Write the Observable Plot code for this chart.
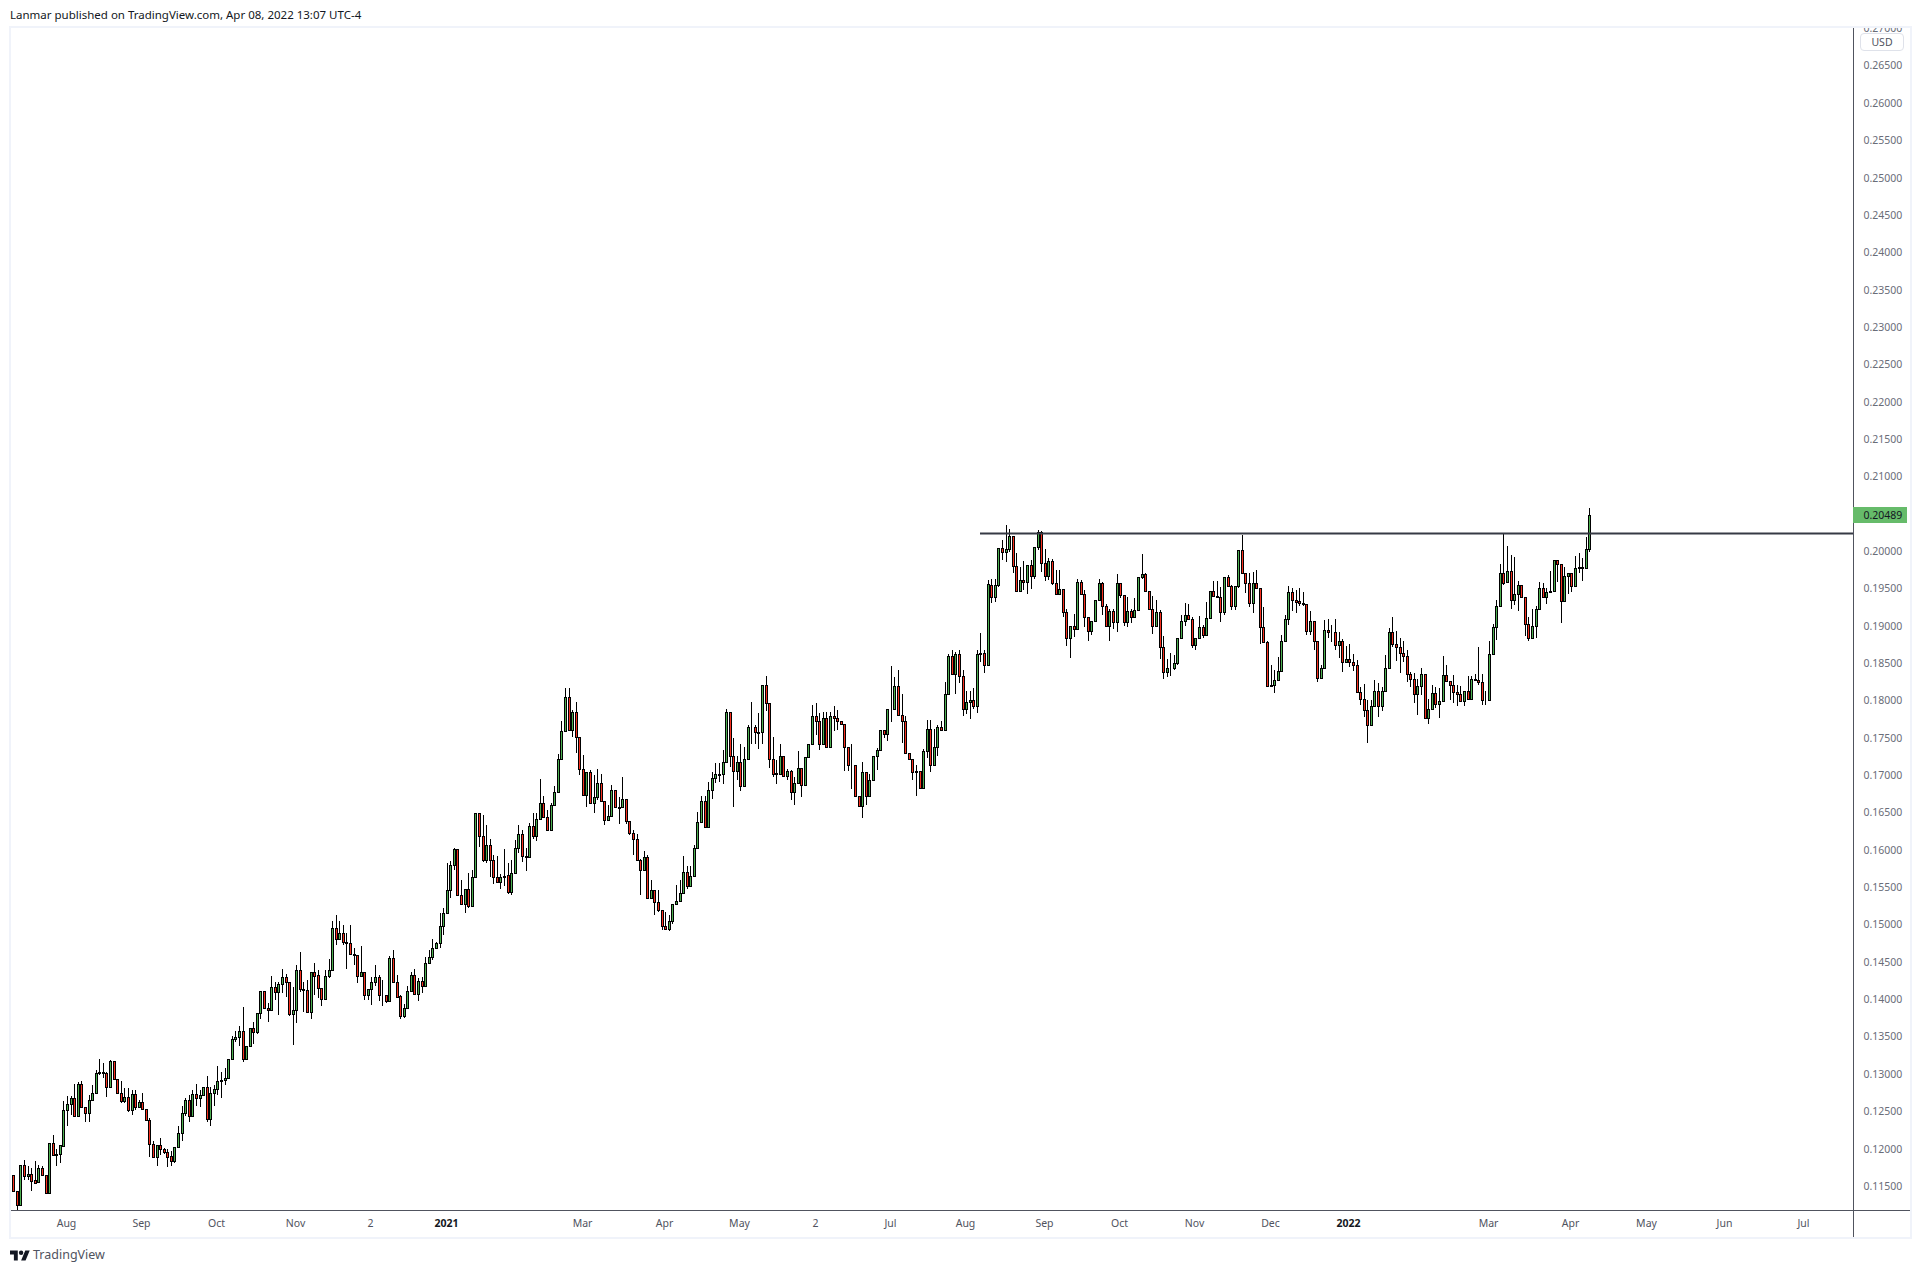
<!DOCTYPE html>
<html><head><meta charset="utf-8">
<script src="https://cdn.jsdelivr.net/npm/d3@7"></script>
<script src="https://cdn.jsdelivr.net/npm/@observablehq/plot@0.6"></script>
<style>
html,body{margin:0;padding:0;background:#fff;width:1921px;height:1273px;overflow:hidden;font-family:"Noto Sans",sans-serif}
#hdr{position:absolute;left:10px;top:7px;font-size:11.5px;color:#131722;white-space:nowrap;line-height:15px}
#frame{position:absolute;left:9px;top:26px;width:1899px;height:1209px;border:2px solid #f0f3fa;background:#fff}
#frame svg{display:block}
#usd{position:absolute;left:1860px;top:33px;width:42px;height:16px;border:1px solid #dfe2ea;border-radius:4px;background:#fff;color:#50535e;font-size:10.5px;line-height:16px;text-align:center}
#ftr{position:absolute;left:10px;top:1247px;display:flex;align-items:center;color:#50535e;font-size:12.5px;line-height:16px}
#ftr svg{margin-right:3px}
</style></head><body>
<div id="hdr">Lanmar published on TradingView.com, Apr 08, 2022 13:07 UTC-4</div>
<div id="frame"></div>
<div id="usd">USD</div>
<div id="ftr"><svg width="20" height="15" viewBox="0 0 36 26"><path d="M14 22H7V11H0V4h14v18zM28 22h-8l7.5-18h8L28 22z" fill="#131722"/><circle cx="20" cy="8" r="4" fill="#131722"/></svg>TradingView</div>
<script>
// Daily candles, prices in ten-thousandths of a US dollar
const opens=[1165,1143,1124,1178,1163,1166,1158,1155,1174,1164,1140,1207,1191,1193,1204,1251,1259,1267,1244,1287,1256,1248,1265,1275,1301,1302,1301,1282,1317,1293,1275,1263,1269,1251,1273,1256,1262,1253,1238,1206,1189,1205,1199,1195,1190,1183,1202,1221,1247,1265,1243,1273,1267,1271,1283,1240,1275,1280,1291,1292,1294,1320,1346,1349,1357,1320,1337,1361,1356,1381,1411,1388,1385,1416,1410,1420,1429,1423,1380,1385,1439,1413,1412,1383,1436,1432,1415,1400,1431,1439,1495,1480,1488,1476,1475,1460,1459,1431,1437,1405,1413,1423,1429,1406,1406,1398,1455,1423,1404,1378,1388,1411,1432,1407,1424,1418,1449,1456,1468,1475,1498,1516,1546,1579,1601,1539,1527,1548,1525,1563,1649,1619,1586,1606,1586,1564,1557,1563,1566,1544,1569,1603,1621,1591,1590,1632,1618,1641,1662,1644,1627,1660,1677,1722,1759,1804,1760,1785,1751,1708,1673,1704,1663,1670,1690,1665,1640,1645,1680,1657,1657,1668,1638,1622,1614,1586,1573,1590,1535,1546,1530,1519,1498,1494,1504,1528,1532,1542,1570,1551,1565,1602,1637,1665,1631,1680,1696,1701,1701,1718,1784,1725,1705,1717,1685,1722,1764,1765,1757,1757,1821,1796,1721,1703,1702,1725,1699,1706,1678,1689,1709,1687,1724,1742,1779,1773,1742,1776,1738,1779,1776,1772,1768,1737,1714,1714,1672,1658,1704,1672,1694,1725,1734,1760,1755,1788,1788,1819,1780,1773,1730,1721,1704,1706,1683,1732,1762,1714,1738,1764,1761,1809,1859,1835,1862,1832,1789,1798,1800,1792,1862,1863,1848,1955,1939,1955,2004,1998,2002,2020,1980,1946,1961,1959,1981,1967,2005,2025,1984,1967,1987,1957,1943,1949,1918,1883,1900,1895,1958,1942,1911,1893,1906,1934,1957,1926,1899,1919,1905,1957,1941,1905,1919,1911,1921,1965,1969,1947,1923,1899,1918,1871,1838,1844,1843,1850,1884,1906,1914,1909,1874,1884,1898,1888,1910,1946,1940,1939,1918,1965,1953,1926,1953,2001,1970,1957,1931,1957,1950,1898,1878,1821,1821,1827,1840,1879,1909,1945,1935,1933,1931,1929,1893,1906,1880,1830,1844,1894,1892,1892,1874,1879,1851,1855,1852,1848,1811,1802,1787,1767,1792,1813,1792,1812,1844,1891,1875,1872,1864,1860,1835,1828,1809,1819,1835,1776,1788,1810,1795,1799,1834,1826,1820,1811,1808,1799,1812,1802,1828,1827,1824,1801,1801,1862,1898,1927,1971,1958,1973,1935,1942,1954,1938,1902,1883,1900,1922,1951,1939,1945,1947,1988,1982,1933,1966,1971,1953,1977,1979,1977,2002];
const closes=[1143,1124,1178,1163,1166,1157,1154,1174,1164,1140,1207,1191,1193,1205,1252,1259,1267,1244,1287,1256,1248,1265,1275,1301,1302,1301,1282,1317,1293,1275,1263,1269,1251,1273,1256,1262,1253,1238,1206,1189,1205,1199,1195,1189,1183,1202,1221,1247,1265,1243,1273,1267,1271,1283,1240,1275,1280,1291,1292,1294,1320,1346,1349,1357,1320,1337,1361,1356,1381,1411,1388,1385,1416,1410,1420,1429,1423,1380,1385,1439,1413,1412,1383,1436,1431,1415,1400,1431,1439,1495,1480,1488,1476,1475,1460,1459,1431,1437,1405,1413,1423,1429,1406,1405,1398,1455,1423,1403,1378,1388,1411,1432,1407,1424,1418,1449,1456,1468,1475,1498,1516,1546,1579,1601,1539,1527,1548,1525,1563,1649,1619,1586,1606,1586,1564,1557,1563,1565,1544,1569,1603,1621,1591,1590,1632,1618,1641,1662,1644,1627,1660,1677,1722,1759,1804,1760,1785,1751,1708,1673,1704,1663,1670,1690,1665,1640,1645,1680,1657,1656,1668,1638,1622,1614,1586,1573,1590,1535,1546,1530,1519,1498,1494,1504,1528,1532,1542,1570,1551,1565,1602,1637,1665,1631,1680,1696,1701,1700,1718,1784,1725,1705,1717,1685,1722,1764,1765,1757,1756,1821,1796,1721,1702,1702,1725,1699,1706,1678,1689,1709,1687,1724,1742,1779,1773,1742,1776,1738,1779,1776,1772,1768,1737,1713,1713,1672,1658,1704,1672,1694,1725,1734,1760,1755,1788,1789,1819,1780,1773,1730,1721,1704,1706,1683,1732,1762,1714,1738,1764,1761,1809,1859,1835,1862,1832,1789,1798,1800,1792,1862,1863,1848,1956,1939,1955,2004,1998,2002,2020,1980,1946,1961,1959,1981,1967,2005,2025,1984,1967,1987,1957,1943,1949,1918,1883,1900,1895,1958,1942,1911,1893,1906,1934,1957,1926,1899,1919,1905,1957,1941,1905,1919,1911,1921,1965,1969,1947,1923,1899,1918,1871,1838,1844,1843,1850,1884,1906,1914,1909,1874,1884,1898,1888,1910,1946,1940,1939,1918,1965,1953,1926,1953,2001,1970,1957,1931,1957,1950,1898,1878,1819,1819,1827,1840,1879,1909,1945,1935,1932,1931,1929,1893,1906,1880,1830,1844,1894,1892,1891,1874,1879,1852,1855,1852,1848,1811,1802,1787,1767,1792,1813,1792,1812,1844,1891,1875,1872,1864,1860,1835,1828,1809,1819,1835,1776,1788,1810,1795,1799,1834,1826,1820,1811,1808,1799,1812,1802,1828,1827,1824,1801,1800,1862,1898,1927,1971,1957,1973,1935,1942,1954,1938,1902,1883,1900,1922,1951,1939,1945,1947,1988,1982,1933,1966,1971,1953,1977,1979,1977,2002,2048];
const highs=[1165,1143,1178,1185,1176,1174,1183,1178,1177,1164,1207,1218,1200,1205,1263,1270,1270,1287,1289,1290,1256,1272,1285,1305,1320,1314,1303,1319,1317,1293,1290,1281,1281,1278,1279,1265,1275,1253,1241,1210,1205,1214,1201,1200,1197,1202,1230,1257,1267,1272,1279,1287,1279,1283,1297,1282,1285,1310,1303,1308,1320,1351,1357,1364,1390,1337,1361,1370,1382,1411,1411,1395,1431,1423,1423,1441,1433,1423,1416,1446,1463,1423,1426,1436,1449,1439,1415,1439,1454,1504,1513,1504,1499,1488,1499,1468,1459,1471,1437,1413,1430,1446,1432,1426,1406,1458,1466,1432,1405,1394,1417,1436,1440,1428,1430,1456,1466,1481,1477,1515,1522,1582,1585,1603,1601,1560,1548,1569,1573,1649,1649,1647,1633,1615,1593,1592,1568,1601,1582,1586,1613,1633,1627,1602,1636,1649,1649,1695,1672,1653,1662,1685,1728,1773,1816,1817,1787,1798,1751,1727,1704,1707,1700,1708,1702,1665,1660,1687,1680,1671,1698,1668,1638,1627,1621,1587,1598,1593,1560,1546,1546,1519,1517,1513,1528,1553,1559,1592,1578,1578,1607,1651,1672,1672,1691,1704,1716,1716,1733,1789,1784,1749,1725,1741,1737,1767,1798,1767,1783,1821,1833,1796,1751,1720,1742,1725,1708,1707,1698,1732,1709,1724,1742,1794,1796,1783,1785,1785,1785,1793,1787,1772,1768,1737,1742,1714,1672,1717,1704,1702,1725,1736,1761,1760,1788,1846,1831,1841,1809,1779,1730,1721,1713,1706,1735,1774,1774,1762,1767,1772,1825,1862,1867,1865,1867,1841,1812,1812,1816,1867,1890,1868,1961,1963,1963,2004,2015,2035,2029,2020,1997,1979,1987,1981,1988,2005,2028,2027,2003,1990,1989,1975,1975,1949,1922,1900,1916,1962,1961,1948,1911,1906,1934,1962,1958,1929,1923,1922,1969,1957,1941,1938,1922,1937,1965,1996,1970,1947,1940,1934,1921,1886,1855,1863,1861,1884,1914,1931,1929,1912,1884,1913,1901,1932,1946,1960,1960,1952,1965,1968,1954,1953,2001,2021,1970,1970,1972,1975,1950,1925,1879,1848,1841,1858,1888,1914,1953,1950,1948,1950,1945,1929,1920,1906,1880,1848,1908,1909,1901,1909,1892,1882,1873,1876,1862,1854,1818,1822,1801,1801,1827,1823,1818,1861,1897,1911,1893,1883,1880,1867,1838,1836,1828,1844,1835,1802,1821,1818,1816,1860,1847,1826,1834,1821,1819,1812,1833,1832,1835,1872,1835,1813,1880,1902,1934,1983,2024,2007,1995,1992,1960,1954,1938,1911,1923,1926,1958,1957,1950,1973,1988,1988,1982,1978,1971,1971,1993,1997,1990,2019,2058];
const lows=[1143,1118,1124,1158,1158,1143,1153,1155,1164,1140,1140,1190,1176,1180,1204,1230,1245,1244,1244,1256,1235,1236,1265,1275,1299,1295,1269,1282,1293,1275,1261,1261,1249,1245,1252,1255,1252,1238,1188,1189,1176,1192,1193,1175,1177,1180,1202,1210,1243,1236,1243,1257,1256,1271,1236,1230,1257,1272,1267,1285,1294,1320,1343,1337,1316,1319,1337,1340,1354,1374,1388,1370,1385,1399,1379,1408,1403,1377,1339,1368,1410,1383,1383,1374,1406,1401,1391,1400,1428,1439,1472,1479,1472,1440,1460,1446,1421,1431,1399,1399,1392,1417,1398,1391,1395,1398,1423,1401,1374,1375,1388,1411,1406,1397,1408,1418,1449,1452,1467,1468,1486,1516,1536,1573,1539,1527,1516,1522,1525,1563,1604,1583,1582,1563,1554,1556,1547,1551,1541,1540,1569,1595,1584,1571,1590,1615,1612,1641,1644,1627,1627,1660,1677,1722,1759,1760,1751,1730,1700,1673,1657,1661,1649,1667,1665,1633,1640,1645,1656,1634,1657,1635,1620,1593,1586,1539,1573,1535,1535,1512,1517,1493,1493,1491,1501,1528,1532,1542,1548,1551,1565,1601,1637,1630,1631,1668,1689,1691,1688,1718,1711,1657,1693,1679,1685,1722,1742,1742,1735,1742,1786,1709,1698,1688,1702,1699,1693,1667,1660,1689,1670,1687,1724,1742,1754,1734,1742,1736,1738,1759,1760,1767,1706,1706,1682,1672,1657,1643,1660,1672,1694,1707,1734,1750,1745,1771,1788,1780,1743,1730,1720,1693,1672,1683,1683,1723,1704,1714,1725,1761,1761,1809,1835,1809,1823,1779,1782,1775,1789,1783,1852,1837,1848,1930,1932,1952,1988,1985,1998,1971,1946,1946,1948,1942,1949,1963,2001,1972,1960,1961,1954,1943,1943,1911,1873,1857,1885,1895,1942,1898,1880,1888,1906,1934,1914,1899,1880,1896,1891,1937,1900,1898,1903,1911,1921,1963,1947,1922,1889,1899,1856,1828,1831,1833,1841,1847,1884,1900,1909,1870,1868,1884,1883,1888,1910,1940,1938,1905,1914,1953,1921,1921,1950,1970,1944,1925,1917,1950,1875,1878,1819,1819,1810,1827,1840,1879,1901,1919,1917,1926,1927,1887,1887,1868,1824,1830,1844,1883,1878,1867,1857,1838,1851,1845,1840,1811,1794,1778,1743,1767,1792,1778,1786,1812,1844,1872,1853,1837,1852,1825,1818,1797,1780,1807,1776,1768,1788,1790,1777,1799,1826,1800,1796,1792,1799,1793,1802,1802,1827,1820,1794,1794,1801,1862,1881,1927,1955,1958,1923,1928,1919,1938,1886,1880,1883,1884,1922,1939,1929,1945,1945,1959,1904,1933,1943,1945,1953,1970,1960,1976,1999];
const PRICE_UNIT=1e-4;
const priceTicks=d3.range(23,55).map(k=>k*0.005);
const monthTickIndex=[15,36,57,79,100,159,182,203,224,245,266,288,309,330,351,412,435,456,478,500];
const monthTickLabels=["Aug","Sep","Oct","Nov","2","Mar","Apr","May","2","Jul","Aug","Sep","Oct","Nov","Dec","Mar","Apr","May","Jun","Jul"];
const yearTickIndex=[121,373];
const yearTickLabels=["2021","2022"];
const resistancePrice=0.20245, resistanceStartIndex=270;
const lastPrice=0.20489;
const GREEN="#4caf50",RED="#f7301f",INK="#000";

if(new Set([opens.length,closes.length,highs.length,lows.length]).size!==1)
  throw new Error("lengths "+[opens.length,closes.length,highs.length,lows.length]);
const candles=opens.map((o,i)=>({i,o:o*PRICE_UNIT,c:closes[i]*PRICE_UNIT,h:highs[i]*PRICE_UNIT,l:lows[i]*PRICE_UNIT}));

const xMin=-0.642,xMax=513.6,xOuter=529.5,yMin=0.11177,yMax=0.27002,yOuter=0.10815;
const fnt='"Noto Sans",sans-serif';
const chart=Plot.plot({
  width:1899,height:1209,marginLeft:0,marginRight:57,marginTop:0,marginBottom:27,
  style:{background:"#fff",fontFamily:fnt},
  x:{type:"linear",domain:[xMin,xMax],round:true},
  y:{type:"linear",domain:[yMin,yMax],round:true},
  marks:[
    Plot.ruleX(candles,{x:"i",y1:"l",y2:"h",stroke:INK,strokeWidth:1}),
    Plot.rect(candles,{x1:"i",x2:"i",y1:"o",y2:"c",insetLeft:-0.5,insetRight:-1.5,insetTop:0.5,insetBottom:-0.5,
      fill:d=>d.c>=d.o?GREEN:RED,stroke:INK,strokeWidth:1}),
    Plot.ruleY([resistancePrice],{x1:resistanceStartIndex,x2:xMax,stroke:"#363a45",strokeWidth:2}),
    Plot.ruleY([yMin],{x1:xMin,x2:xOuter,stroke:"#50535e",strokeWidth:1}),
    Plot.ruleX([xMax],{y1:yOuter,y2:yMax,stroke:"#50535e",strokeWidth:1}),
    Plot.axisY({anchor:"right",ticks:priceTicks,tickSize:0,tickPadding:10,tickFormat:d3.format(".5f"),
      label:null,fontSize:10.5,fill:"#6a6d78"}),
    Plot.axisX({anchor:"bottom",ticks:monthTickIndex,tickSize:0,tickPadding:9,dx:-1,
      tickFormat:d=>monthTickLabels[monthTickIndex.indexOf(d)],label:null,fontSize:10.5,fill:"#50535e"}),
    Plot.axisX({anchor:"bottom",ticks:yearTickIndex,tickSize:0,tickPadding:9,dx:-1,
      tickFormat:d=>yearTickLabels[yearTickIndex.indexOf(d)],label:null,fontSize:10.5,fontWeight:"bold",fill:"#131722"}),
    Plot.rect([lastPrice],{x1:()=>xMax,x2:()=>xMax,y1:d=>d,y2:d=>d,insetLeft:0,insetRight:-54,insetTop:-7,insetBottom:-9,fill:"#66bb6a"}),
    Plot.text([lastPrice],{x:()=>xMax,y:d=>d,text:d=>d3.format(".5f")(d),textAnchor:"start",dx:10,dy:1,fontSize:10.5,fill:"#131722"})
  ]
});
document.getElementById("frame").appendChild(chart);
</script>
</body></html>
